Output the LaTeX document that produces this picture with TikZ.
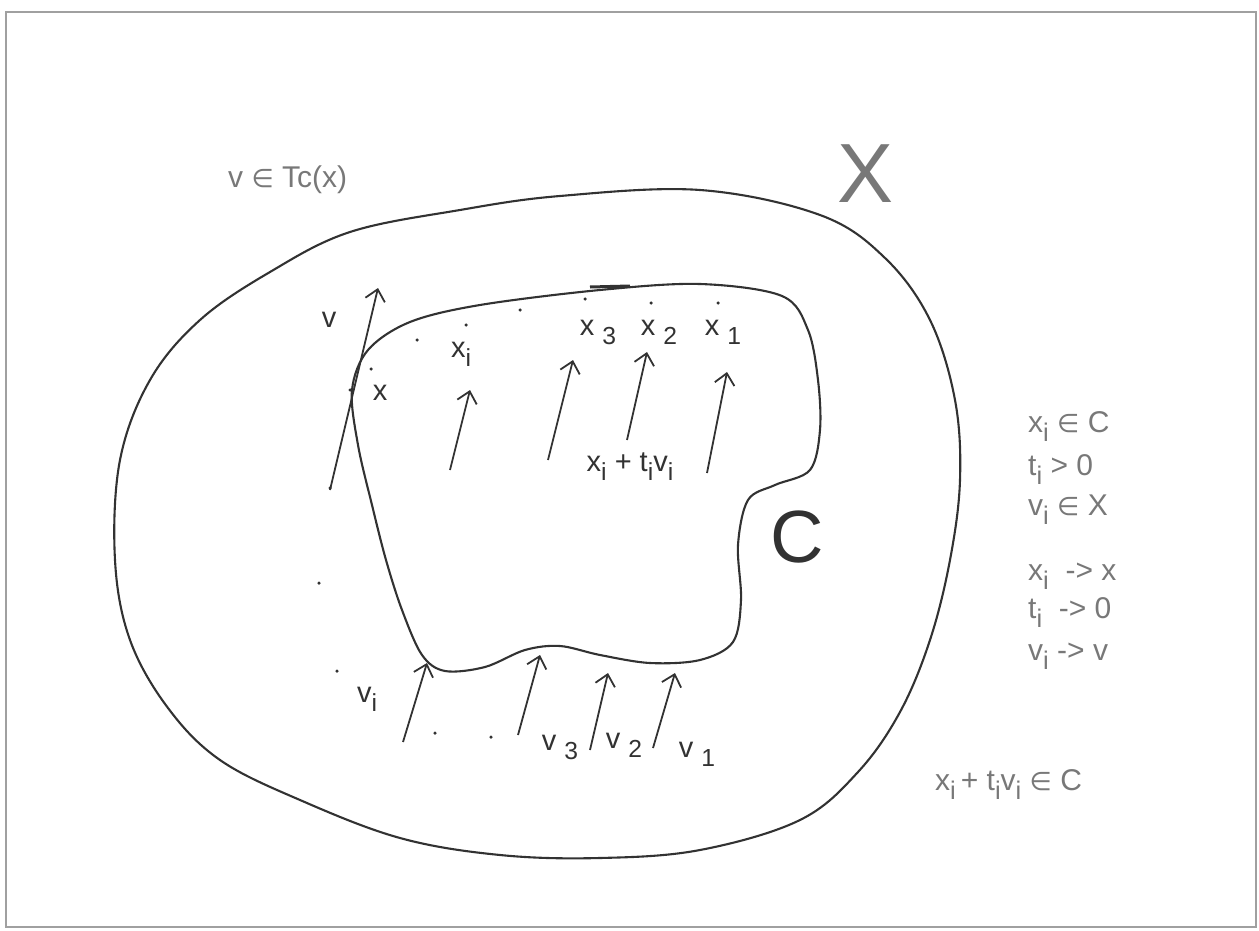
\documentclass[tikz,border=0pt]{standalone}
\usepackage{fontspec}
\setmainfont{Liberation Sans}
\newfontfamily\symf{DejaVu Sans}
\usetikzlibrary{arrows.meta}
\definecolor{ink}{RGB}{50,50,50}
\definecolor{txtgray}{RGB}{120,120,120}
\definecolor{framegray}{RGB}{160,160,160}
\newcommand{\elm}{\scalebox{0.85}{\symf ∈}}
\newcommand{\sbs}[1]{\raisebox{-0.32em}{\scalebox{0.85}{#1}}}
\begin{document}
\begin{tikzpicture}[x=1pt,y=-1pt,
  curve/.style={ink, line width=2.1pt, line join=round},
  vec/.style={ink, line width=1.8pt, -{Straight Barb[length=11pt,width=20pt,line width=1.8pt]}},
  lbl/.style={ink, font=\fontsize{29}{32}\selectfont, inner sep=0, anchor=base},
  glbl/.style={txtgray, font=\fontsize{30}{32}\selectfont, inner sep=0, anchor=base west},
  speck/.style={ink, fill, circle, inner sep=0, minimum size=3.5pt}]
\useasboundingbox (0,0) rectangle (1259,931);
\draw[framegray, line width=2.2pt] (6,12) rectangle (1256,927);

% outer set X
\draw[curve] plot[smooth cycle, tension=0.6] coordinates {
 (460,210) (560,196) (700,190) (820,215) (885,258) (930,320) (955,400)
 (960,480) (950,560) (930,640) (900,712) (858,772) (800,820) (700,850)
 (600,858) (500,855) (400,838) (300,800) (220,760) (168,708) (130,640)
 (115,560) (120,460) (150,380) (200,320) (270,272) (350,232)};

% inner set C
\draw[curve] plot[smooth cycle, tension=0.55] coordinates {
 (352,390) (368,350) (410,322) (480,305) (600,290) (700,284) (782,296)
 (808,330) (818,380) (820,430) (810,470) (775,485) (748,500) (738,545)
 (741,600) (733,642) (700,660) (650,663) (600,655) (560,646) (525,650)
 (485,667) (445,671) (422,655) (402,610) (386,560) (372,505) (358,445)};
\draw[ink, line width=3pt] (590,287) -- (630,286);

% arrow end points
\coordinate (v0) at (330,490);   \coordinate (v1) at (378,288);
\coordinate (a0) at (450,470);   \coordinate (a1) at (470,390);
\coordinate (b0) at (548,460);   \coordinate (b1) at (573,360);
\coordinate (c0) at (627,440);   \coordinate (c1) at (647,352);
\coordinate (d0) at (707,473);   \coordinate (d1) at (727,372);
\coordinate (e0) at (403,742);   \coordinate (e1) at (427,663);
\coordinate (f0) at (518,735);   \coordinate (f1) at (540,655);
\coordinate (g0) at (590,750);   \coordinate (g1) at (608,673);
\coordinate (h0) at (653,748);   \coordinate (h1) at (675,673);
\foreach \s/\e in {v0/v1,a0/a1,b0/b1,c0/c1,d0/d1,e0/e1,f0/f1,g0/g1,h0/h1}
  \draw[vec] (\s) -- (\e);

% specks
\foreach \n/\p in {s1/{(371,369)},s2/{(417,340)},s3/{(466,325)},s4/{(520,310)},
  s5/{(585,299)},s6/{(651,303)},s7/{(718,303)},s8/{(330,488)},s9/{(319,583)},
  s10/{(337,671)},s11/{(435,733)},s12/{(491,737)},s13/{(350,390)}}
  \node[speck] (\n) at \p {};

% labels on the drawing
\node[lbl] (lv)  at (329,327) {v};
\node[lbl] (lx)  at (380,400) {x};
\node[lbl] (lxi) at (461,357) {x\sbs{i}};
\node[lbl] (lx3) at (598,335) {x \sbs{3}};
\node[lbl] (lx2) at (659,335) {x \sbs{2}};
\node[lbl] (lx1) at (723,335) {x \sbs{1}};
\node[lbl] (lxt) at (630,471) {x\sbs{i}\ +\ t\sbs{i}v\sbs{i}};
\node[lbl] (lvi) at (367,702) {v\sbs{i}};
\node[lbl] (lv3) at (560,750) {v \sbs{3}};
\node[lbl] (lv2) at (624,748) {v \sbs{2}};
\node[lbl] (lv1) at (697,757) {v \sbs{1}};

\node[txtgray, font=\fontsize{84}{90}\selectfont, inner sep=0] (bigX) at (866,174) {X};
\node[ink, font=\fontsize{74}{80}\selectfont, inner sep=0] (bigC) at (797,537) {C};

% gray notes
\node[glbl] (tc) at (228,187) {v \elm\ Tc(x)};
\node[glbl] (r1) at (1028,432) {x\sbs{i} \elm\ C};
\node[glbl] (r2) at (1028,475) {t\sbs{i} > 0};
\node[glbl] (r3) at (1028,515) {v\sbs{i} \elm\ X};
\node[glbl] (r4) at (1028,580) {x\sbs{i} \ -> x};
\node[glbl] (r5) at (1028,618) {t\sbs{i} \ -> 0};
\node[glbl] (r6) at (1028,660) {v\sbs{i} -> v};
\node[glbl] (bt) at (935,790) {x\sbs{i}\,+ t\sbs{i}v\sbs{i} \elm\ C};
\end{tikzpicture}
\end{document}
